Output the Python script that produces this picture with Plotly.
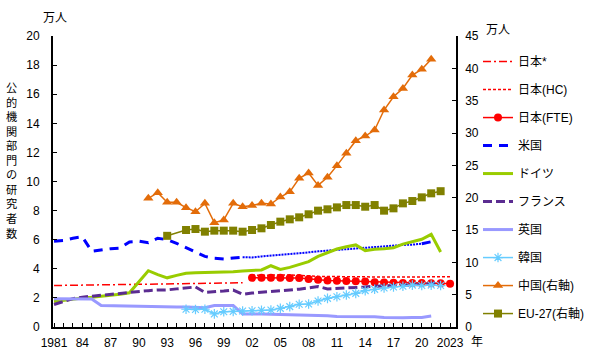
import plotly.graph_objects as go

# ---------------- data ----------------
tick_years = list(range(1981, 2024))
tick_label_map = {1981: "1981", 1984: "84", 1987: "87", 1990: "90", 1993: "93", 1996: "96",
                  1999: "99", 2002: "02", 2005: "05", 2008: "08", 2011: "11", 2014: "14",
                  2017: "17", 2020: "20", 2023: "2023"}

jp_star_years = list(range(1981, 2002))
jp_star = [2.85, 2.86, 2.87, 2.88, 2.88, 2.89, 2.90, 2.91, 2.92, 2.93, 2.94, 2.95, 2.96, 2.97,
           2.98, 2.99, 3.00, 3.01, 3.02, 3.03, 3.04]

jp_hc_years = list(range(2002, 2024))
jp_hc = [3.55, 3.57, 3.58, 3.60, 3.58, 3.55, 3.50, 3.48, 3.47, 3.46, 3.45, 3.44, 3.43, 3.42,
         3.42, 3.43, 3.44, 3.45, 3.46, 3.46, 3.45, 3.45]

jp_fte_years = list(range(2002, 2024))
jp_fte = [3.38, 3.39, 3.38, 3.38, 3.37, 3.36, 3.30, 3.25, 3.20, 3.18, 3.16, 3.15, 3.12, 3.08,
          3.05, 3.04, 3.03, 3.03, 3.02, 3.00, 3.00, 2.98]

us_years = list(range(1981, 2002))
us = [5.90, 5.95, 6.10, 6.20, 5.20, 5.30, 5.38, 5.42, 5.85, 5.90, 5.80, 6.10, 6.00, 5.75,
      5.45, 5.10, 4.85, 4.72, 4.68, 4.75, 4.80]
us_dot_years = list(range(2001, 2021))
us_dot = [4.80, 4.78, 4.85, 4.90, 4.97, 5.02, 5.08, 5.13, 5.20, 5.25, 5.30, 5.35, 5.42, 5.47,
          5.52, 5.57, 5.61, 5.64, 5.66, 5.72]
us_late_years = [2020, 2021]
us_late = [5.72, 5.86]

de_years = [1981, 1982, 1983, 1984, 1985, 1986, 1987, 1988, 1989] + list(range(1991, 2023))
de = [1.75, 1.85, 1.95, 2.00, 2.05, 2.10, 2.15, 2.25, 2.35,
      3.87, 3.60, 3.38, 3.55, 3.69, 3.72, 3.73, 3.78, 3.80, 3.80, 3.85, 3.88, 3.92, 4.21, 3.96,
      4.10, 4.30, 4.49, 4.85, 5.10, 5.36, 5.52, 5.64, 5.25, 5.35, 5.38, 5.45, 5.70, 5.88, 6.03,
      6.37, 5.15]

fr_years = list(range(1981, 2023))
fr = [1.55, 1.75, 1.95, 2.05, 2.12, 2.18, 2.25, 2.32, 2.38, 2.45, 2.50, 2.54, 2.55, 2.62, 2.70,
      2.75, 2.38, 2.40, 2.47, 2.54, 2.25, 2.33, 2.38, 2.42, 2.50, 2.55, 2.60, 2.68, 2.78, 2.62,
      2.64, 2.68, 2.72, 2.75, 2.80, 2.82, 2.85, 2.88, 2.90, 2.92, 2.98, 3.08]

uk_years = list(range(1981, 2022))
uk = [1.95, 1.95, 1.95, 1.95, 1.92, 1.48, 1.47, 1.47, 1.46, 1.46, 1.45, 1.45, 1.42, 1.38, 1.37,
      1.35, 1.32, 1.47, 1.48, 1.48, 0.90, 0.92, 0.90, 0.88, 0.87, 0.85, 0.82, 0.80, 0.80, 0.78,
      0.72, 0.72, 0.72, 0.72, 0.70, 0.65, 0.62, 0.63, 0.66, 0.66, 0.75]

kr_years = list(range(1995, 2023))
kr = [1.22, 1.20, 1.22, 0.90, 1.05, 1.07, 1.10, 1.12, 1.15, 1.17, 1.28, 1.40, 1.56, 1.58, 1.79,
      1.97, 2.08, 2.20, 2.31, 2.50, 2.59, 2.68, 2.75, 2.80, 2.88, 2.85, 2.88, 2.85]

cn_years = list(range(1991, 2022))
cn = [19.90, 20.77, 19.28, 19.28, 18.45, 17.83, 19.12, 16.13, 16.55, 19.12, 18.60, 18.80, 19.12,
      19.02, 20.10, 20.90, 23.00, 23.80, 21.90, 23.15, 24.95, 26.86, 28.81, 29.53, 30.46, 33.55,
      35.60, 36.90, 38.97, 39.84, 41.40]

eu_years = [1993] + list(range(1995, 2023))
eu = [14.10, 15.00, 15.15, 14.74, 14.90, 14.90, 14.90, 14.74, 15.00, 15.26, 15.77, 16.29, 16.65,
      16.96, 17.43, 17.99, 18.20, 18.50, 18.86, 18.86, 18.60, 18.86, 17.99, 18.35, 19.12, 19.48,
      20.05, 20.67, 21.00]

names = ["日本*", "日本(HC)", "日本(FTE)", "米国", "ドイツ", "フランス", "英国", "韓国",
         "中国(右軸)", "EU-27(右軸)"]

# ---------------- figure ----------------
FONT = "Liberation Sans, Noto Sans CJK JP, sans-serif"
fig = go.Figure()


def add(x, y, name, color, width, dash="solid", marker=None, axis="y", show=True, group=None):
    fig.add_trace(go.Scatter(
        x=x, y=y, name=name, yaxis=axis,
        mode="lines+markers" if marker else "lines",
        line=dict(color=color, width=width, dash=dash),
        marker=marker if marker else None,
        showlegend=show, legendgroup=group or name,
        hoverinfo="skip"))


add(jp_star_years, jp_star, names[0], "#FF0000", 1.5, dash="8px,3px,2px,3px")
add(jp_hc_years, jp_hc, names[1], "#FF0000", 1.5, dash="3px,2px")
add(jp_fte_years, jp_fte, names[2], "#FF0000", 1.5,
    marker=dict(symbol="circle", size=8, color="#FF0000"))
add(us_years, us, names[3], "#0000FF", 3, dash="9px,7px")
add(us_dot_years, us_dot, names[3], "#0000FF", 2, dash="2px,1px", show=False)
add(us_late_years, us_late, names[3], "#0000FF", 3, dash="9px,7px", show=False)
add(de_years, de, names[4], "#99CC00", 3)
add(fr_years, fr, names[5], "#5B2C91", 3, dash="9px,4px")
add(uk_years, uk, names[6], "#9999FF", 3)
add(kr_years, kr, names[7], "#66CCFF", 1.5,
    marker=dict(symbol="asterisk-open", size=8, color="#66CCFF", line=dict(color="#66CCFF", width=1.2)))
add(cn_years, cn, names[8], "#E36C09", 1.5,
    marker=dict(symbol="triangle-up", size=9, color="#E36C09"), axis="y2")
add(eu_years, eu, names[9], "#808000", 1.5,
    marker=dict(symbol="square", size=8, color="#808000"), axis="y2")

fig.update_layout(
    width=600, height=354,
    margin=dict(l=53, r=144, t=36, b=27, autoexpand=False),
    paper_bgcolor="white", plot_bgcolor="white",
    font=dict(family=FONT, size=12, color="black"),
    xaxis=dict(range=[1980.89, 2023.63], tickmode="array", tickvals=tick_years,
               ticktext=[tick_label_map.get(y, "") for y in tick_years],
               ticks="inside", ticklen=4, tickcolor="black", tickwidth=1,
               showline=True, linecolor="black", linewidth=2, showgrid=False, zeroline=False,
               tickfont=dict(size=12), ticklabelstandoff=4, automargin=False),
    yaxis=dict(range=[0, 20], dtick=2, ticks="inside", ticklen=4, tickcolor="black",
               showline=True, linecolor="black", linewidth=2, showgrid=False, zeroline=False,
               tickfont=dict(size=12), ticklabelstandoff=9, automargin=False),
    yaxis2=dict(range=[0, 45], dtick=5, overlaying="y", side="right", ticks="inside", ticklen=4,
                tickcolor="black", showline=True, linecolor="black", linewidth=1.5,
                showgrid=False, zeroline=False, tickfont=dict(size=12), ticklabelstandoff=5,
                automargin=False),
    legend=dict(x=1.0546, xanchor="left", y=0.962, yanchor="top", traceorder="grouped",
                tracegroupgap=9, font=dict(size=12), bgcolor="rgba(0,0,0,0)"),
    annotations=[
        dict(text="万人", x=0.005, y=1.062, xref="paper", yref="paper", showarrow=False,
             xanchor="center", yanchor="middle", font=dict(size=12)),
        dict(text="万人", x=1.105, y=1.022, xref="paper", yref="paper", showarrow=False,
             xanchor="center", yanchor="middle", font=dict(size=12)),
        dict(text="<br>".join(list("公的機関部門の研究者数")), x=-0.104, y=0.572,
             xref="paper", yref="paper", showarrow=False, xanchor="center", yanchor="middle",
             font=dict(size=11.2)),
        dict(text="年", x=1.052, y=-0.052, xref="paper", yref="paper", showarrow=False,
             xanchor="center", yanchor="middle", font=dict(size=12)),
    ],
)

fig.write_html("out.html")
